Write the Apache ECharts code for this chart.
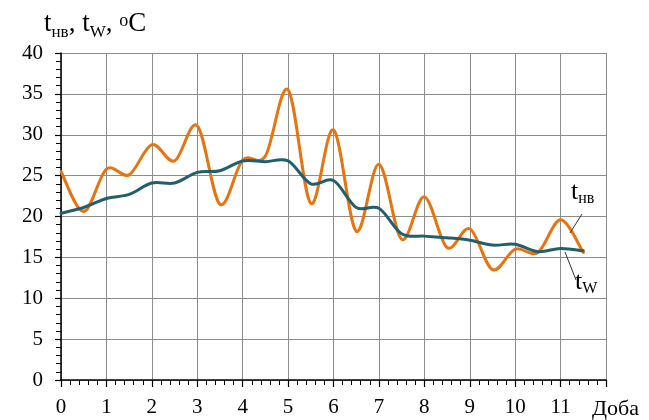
<!DOCTYPE html>
<html>
<head>
<meta charset="utf-8">
<script src="https://cdn.jsdelivr.net/npm/echarts@6/dist/echarts.min.js"></script>
<style>html,body{margin:0;padding:0;background:#fff}#c{width:649px;height:420px}</style>
</head>
<body>
<div id="c"></div>
<script>
// Days (x), 12-hour step
const days = [0,0.5,1,1.5,2,2.5,3,3.5,4,4.5,5,5.5,6,6.5,7,7.5,8,8.5,9,9.5,10,10.5,11,11.5];
// Outdoor air temperature t_нв, °C
const tNv = [25.5,20.6,25.8,25.1,28.8,26.8,31.1,21.5,26.9,27.4,35.5,21.6,30.6,18.2,26.4,17.2,22.4,16.2,18.5,13.5,16.0,15.6,19.6,15.6];
// Water temperature t_w, °C
const tW = [20.4,21.1,22.2,22.7,24.1,24.1,25.4,25.6,26.8,26.7,26.8,24.0,24.4,21.1,21.0,17.9,17.6,17.4,17.1,16.5,16.6,15.7,16.1,15.8];
const xTicks = [0,1,2,3,4,5,6,7,8,9,10,11];

const FONT = 'Liberation Serif';
const chart = echarts.init(document.getElementById('c'));
const pairs = arr => days.map((d,i)=>[d, arr[i]]);

// Smooth (Catmull-Rom) curve through the data points, positioned with the chart's own scales
function splineRenderer(values, color) {
  return function (params, api) {
    if (params.dataIndex !== 0) return null;
    const pts = days.map((d,i)=>api.coord([d, values[i]]));
    const n = pts.length;
    let d = 'M' + pts[0][0] + ' ' + pts[0][1];
    for (let i = 0; i < n - 1; i++) {
      const p0 = pts[Math.max(i-1,0)], p1 = pts[i], p2 = pts[i+1], p3 = pts[Math.min(i+2,n-1)];
      const c1x = p1[0] + (p2[0]-p0[0])/6, c1y = p1[1] + (p2[1]-p0[1])/6;
      const c2x = p2[0] - (p3[0]-p1[0])/6, c2y = p2[1] - (p3[1]-p1[1])/6;
      d += ' C' + c1x + ' ' + c1y + ' ' + c2x + ' ' + c2y + ' ' + p2[0] + ' ' + p2[1];
    }
    return {type: 'path', shape: {pathData: d},
      style: {fill: 'none', stroke: color, lineWidth: 3, lineJoin: 'round', lineCap: 'round'}};
  };
}

chart.setOption({
  animation: false,
  backgroundColor: '#fff',
  grid: {left: 61, right: 43, top: 53, bottom: 37},
  xAxis: {
    type: 'value', min: 0, max: 12, interval: 1,
    name: 'Доба', nameLocation: 'end', nameGap: -14,
    nameTextStyle: {fontFamily: FONT, fontSize: 22, color: '#000', verticalAlign: 'top', padding: [18,0,0,0]},
    axisLine: {show: true, lineStyle: {color: '#000', width: 1.5}},
    axisTick: {show: true, length: 7, lineStyle: {color: '#000', width: 1.2}},
    minorTick: {show: true, splitNumber: 5, length: 5, lineStyle: {color: '#000', width: 1}},
    axisLabel: {fontFamily: FONT, fontSize: 21, color: '#000', margin: 17,
      formatter: v => xTicks.indexOf(v) >= 0 ? String(v) : ''},
    splitLine: {show: true, lineStyle: {color: '#8c8c8c', width: 1}}
  },
  yAxis: {
    type: 'value', min: 0, max: 40, interval: 5,
    axisLine: {show: true, lineStyle: {color: '#000', width: 1.5}},
    axisTick: {show: true, length: 6, lineStyle: {color: '#000', width: 1.2}},
    minorTick: {show: true, splitNumber: 5, length: 5, lineStyle: {color: '#000', width: 1}},
    axisLabel: {fontFamily: FONT, fontSize: 21, color: '#000', margin: 18},
    splitLine: {show: true, lineStyle: {color: '#8c8c8c', width: 1}}
  },
  series: [
    {name: 'tнв', type: 'custom', data: pairs(tNv), renderItem: splineRenderer(tNv, '#E8730F'), z: 3},
    {name: 'tw', type: 'custom', data: pairs(tW), renderItem: splineRenderer(tW, '#235E6C'), z: 4}
  ],
  graphic: [
    {type: 'text', left: 44, top: 7, style: {
      text: '{m|t}{s|нв}{m|, t}{s|W}{m|, }{p|o}{m|C}',
      fontFamily: FONT, fill: '#000',
      rich: {
        m: {fontSize: 27, fontFamily: FONT, lineHeight: 34, verticalAlign: 'middle'},
        s: {fontSize: 17, fontFamily: FONT, lineHeight: 16, verticalAlign: 'bottom'},
        p: {fontSize: 18, fontFamily: FONT, lineHeight: 18, verticalAlign: 'top', padding:[5,0,0,0]}
      }
    }},
    {type: 'text', left: 571, top: 179, style: {
      text: '{m|t}{s|нв}', fontFamily: FONT, fill: '#000',
      rich: {
        m: {fontSize: 26, fontFamily: FONT, lineHeight: 30, verticalAlign: 'middle'},
        s: {fontSize: 16, fontFamily: FONT, lineHeight: 14, verticalAlign: 'bottom'}
      }
    }},
    {type: 'text', left: 575, top: 269, style: {
      text: '{m|t}{s|W}', fontFamily: FONT, fill: '#000',
      rich: {
        m: {fontSize: 26, fontFamily: FONT, lineHeight: 30, verticalAlign: 'middle'},
        s: {fontSize: 16, fontFamily: FONT, lineHeight: 14, verticalAlign: 'bottom'}
      }
    }},
    {type: 'line', shape: {x1: 582, y1: 214, x2: 570, y2: 233}, style: {stroke: '#333', lineWidth: 1}, z: 10},
    {type: 'line', shape: {x1: 565, y1: 252, x2: 576, y2: 280}, style: {stroke: '#333', lineWidth: 1}, z: 10}
  ]
});
</script>
</body>
</html>
